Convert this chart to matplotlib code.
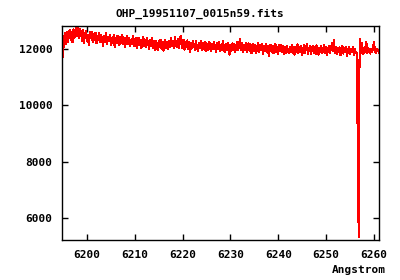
import numpy as np
from matplotlib import pyplot as plt

title = "OHP_19951107_0015n59.fits"
crval = 6194.8   # first wavelength
cdelt = 0.2      # step in Angstrom

flux = [
    12420, 11720, 12300, 12560, 12180, 12610, 12250, 12480, 12680, 12330,
    12590, 12240, 12700, 12400, 12620, 12780, 12450, 12800, 12380, 12720,
    12550, 12300, 12680, 12200, 12530, 12640, 12280, 12500, 12150, 12600,
    12380, 12620, 12250, 12520, 12330, 12580, 12200, 12470, 12310, 12560,
    12240, 12500, 12330, 12100, 12480, 12260, 12560, 12180, 12440, 12290,
    12510, 12150, 12400, 12230, 12490, 12080, 12380, 12210, 12470, 12280,
    12140, 12420, 12220, 12510, 12170, 12380, 12060, 12350, 12460, 12190,
    12400, 12110, 12330, 12180, 12450, 12090, 12310, 12390, 12040, 12300,
    12400, 12140, 12330, 12030, 12280, 12420, 12110, 12340, 12080, 12380,
    12190, 12000, 12320, 12120, 12410, 12050, 12280, 11980, 12300, 12120,
    11960, 12270, 12060, 12340, 12010, 12250, 11940, 12210, 12320, 12030,
    12240, 11990, 12300, 12080, 12380, 12120, 12300, 12040, 12430, 12190,
    12070, 12360, 12020, 12290, 12470, 12130, 12020, 12330, 11970, 12260,
    12080, 12310, 11990, 12240, 11900, 12220, 12040, 12280, 12100, 11980,
    12270, 12060, 11940, 12230, 12020, 12300, 11960, 12200, 12010, 12250,
    11930, 12210, 12030, 11960, 12260, 12070, 11940, 12190, 12000, 12240,
    12020, 11900, 12200, 11990, 12260, 11930, 12160, 11970, 12270, 12010,
    11880, 12190, 11970, 12220, 12010, 11800, 12150, 11930, 12200, 11980,
    12180, 11890, 12130, 12240, 11950, 12160, 12360, 11970, 12200, 11900,
    12150, 11960, 12230, 11880, 12120, 12200, 11930, 12170, 11860, 12110,
    12190, 11940, 12150, 11870, 12100, 12220, 11910, 12140, 11960, 12180,
    11840, 12110, 11920, 12170, 11890, 12120, 11760, 12060, 12160, 11900,
    12120, 11860, 12100, 12190, 11880, 12080, 11830, 12140, 11920, 12160,
    11880, 12120, 11820, 12070, 11870, 12110, 11930, 11850, 12080, 11890,
    12140, 11860, 12060, 11800, 12090, 11910, 12170, 11850, 12070, 11880,
    12120, 11790, 12030, 12130, 11860, 12060, 12180, 11840, 12010, 12100,
    11820, 12020, 12120, 11870, 12060, 11830, 12130, 11950, 11800, 12040,
    11900, 12100, 11850, 12020, 12150, 11860, 12080, 11780, 11990, 12100,
    11860, 12040, 12200, 11920, 12330, 11870, 12090, 11820, 12030, 11880,
    12060, 11780, 12000, 12110, 11840, 12030, 11900, 12080, 11760, 11990,
    12070, 11830, 12010, 11880, 12090, 11800, 11990, 11860, 11850, 8770,
    5320, 12360, 11850, 12230, 11900, 11830, 12060, 11880, 12250, 11860,
    12040, 11900, 11840, 12020, 11880, 12070, 12240, 11930, 11850, 12000,
    11960, 11880,
]

xticks = [6200, 6210, 6220, 6230, 6240, 6250, 6260]
yticks = [6000, 8000, 10000, 12000]

wave = crval + cdelt * np.arange(len(flux))

plt.rcParams['font.family'] = 'DejaVu Sans Mono'
plt.rcParams['font.weight'] = 'bold'
plt.rcParams['font.size'] = 8

fig = plt.figure(figsize=(4, 2.8), dpi=100)
ax = fig.add_axes([0.155, 0.143, 0.7925, 0.764])
ax.plot(wave, flux, color='red', linewidth=0.75, antialiased=False)

ax.set_xlim(6194.8, 6261.05)
ax.set_ylim(5219, 12817)
ax.set_xticks(xticks)
ax.set_yticks(yticks)
ax.tick_params(direction='in', length=4, width=1, top=True, right=True, pad=7)
for s in ax.spines.values():
    s.set_linewidth(1)

fig.text(0.5, 0.95, title, ha='center', va='center')
fig.text(0.965, 0.035, "Angstrom", ha='right', va='center')

plt.savefig("out.png", dpi=100)
